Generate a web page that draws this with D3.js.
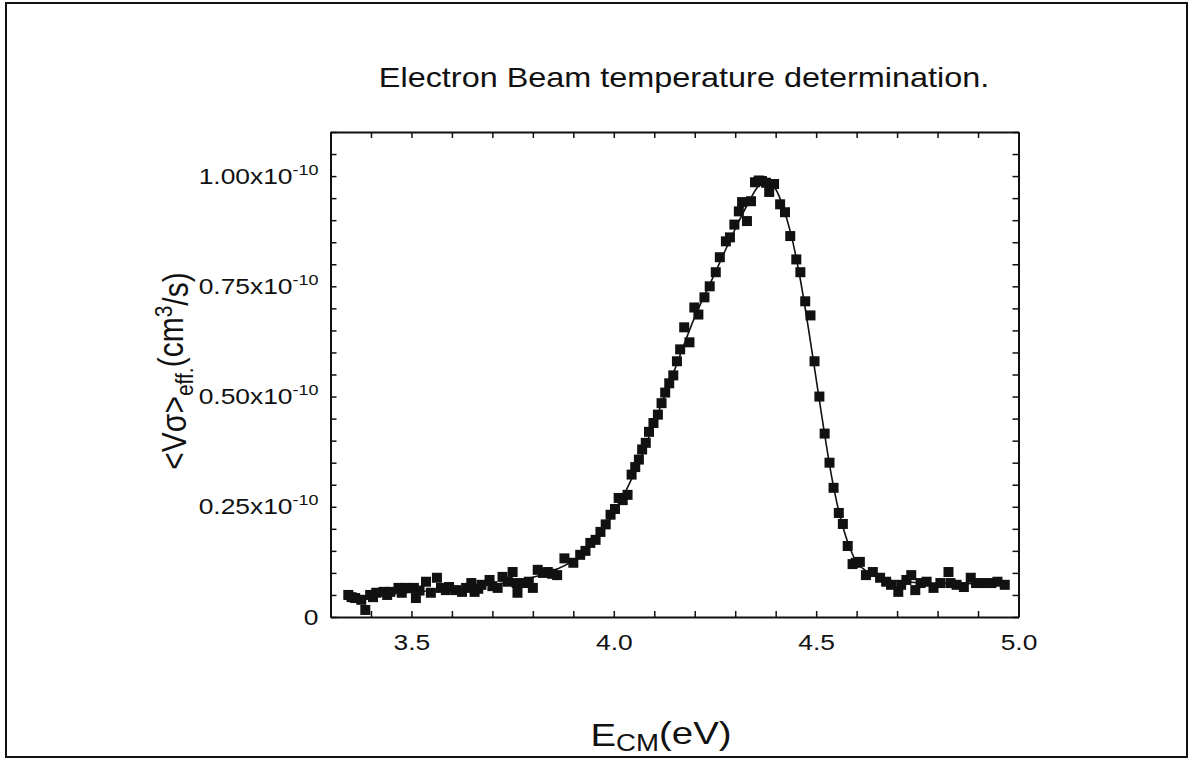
<!DOCTYPE html>
<html><head><meta charset="utf-8">
<script src="https://cdn.jsdelivr.net/npm/d3@7"></script>
<style>
html,body{margin:0;padding:0;background:#fff;}
svg{display:block;}
text{font-family:"Liberation Sans",Arial,Helvetica,sans-serif;fill:#111;}
</style></head>
<body>
<svg id="chart" width="1195" height="759"></svg>
<script>
// ---- data (E in eV, rate in units of 1e-10 cm^3/s) ----
const ecm = [3.344,3.352,3.361,3.376,3.386,3.398,3.405,3.413,3.431,3.440,3.448,3.468,3.476,3.486,3.506,3.511,3.520,3.536,3.548,3.563,3.573,3.585,3.593,3.610,3.625,3.635,3.648,3.656,3.665,3.673,3.693,3.700,3.713,3.725,3.738,3.750,3.760,3.762,3.780,3.790,3.800,3.812,3.825,3.837,3.848,3.860,3.878,3.900,3.917,3.930,3.942,3.955,3.967,3.980,3.992,4.003,4.012,4.022,4.034,4.044,4.053,4.062,4.070,4.079,4.087,4.098,4.109,4.118,4.127,4.137,4.147,4.156,4.164,4.174,4.187,4.199,4.209,4.224,4.237,4.252,4.262,4.277,4.287,4.298,4.309,4.317,4.329,4.339,4.349,4.358,4.366,4.376,4.384,4.396,4.411,4.423,4.436,4.451,4.461,4.473,4.486,4.496,4.508,4.521,4.533,4.543,4.556,4.566,4.578,4.590,4.598,4.608,4.623,4.640,4.658,4.673,4.685,4.703,4.710,4.723,4.735,4.745,4.758,4.773,4.790,4.807,4.827,4.832,4.847,4.865,4.882,4.895,4.910,4.933,4.948,4.966];
const rate = [0.050,0.045,0.043,0.039,0.016,0.050,0.045,0.055,0.057,0.050,0.057,0.066,0.055,0.066,0.066,0.043,0.060,0.080,0.055,0.089,0.066,0.061,0.068,0.061,0.057,0.066,0.077,0.057,0.064,0.073,0.084,0.070,0.066,0.091,0.080,0.102,0.077,0.055,0.077,0.080,0.066,0.107,0.100,0.102,0.098,0.095,0.133,0.123,0.141,0.150,0.168,0.175,0.193,0.210,0.232,0.245,0.270,0.265,0.277,0.323,0.340,0.357,0.380,0.395,0.420,0.440,0.459,0.485,0.509,0.530,0.548,0.580,0.607,0.657,0.623,0.702,0.686,0.725,0.750,0.782,0.816,0.852,0.861,0.890,0.920,0.941,0.898,0.943,0.986,0.990,0.989,0.985,0.964,0.982,0.936,0.918,0.864,0.811,0.782,0.716,0.684,0.580,0.500,0.416,0.350,0.293,0.236,0.211,0.161,0.120,0.123,0.125,0.095,0.102,0.089,0.080,0.073,0.057,0.073,0.084,0.095,0.061,0.077,0.080,0.066,0.077,0.102,0.077,0.073,0.068,0.089,0.077,0.077,0.077,0.080,0.073];
// fitted curve
const fitE = [3.35,3.45,3.55,3.65,3.75,3.80,3.85,3.90,3.95,4.00,4.05,4.10,4.15,4.20,4.25,4.30,4.33,4.36,4.38,4.40,4.42,4.44,4.46,4.48,4.50,4.52,4.54,4.56,4.58,4.60,4.63,4.67,4.75,4.85,4.95];
const fitV = [0.045,0.052,0.060,0.068,0.080,0.090,0.105,0.128,0.170,0.235,0.325,0.440,0.560,0.680,0.780,0.880,0.935,0.980,0.988,0.970,0.925,0.860,0.770,0.660,0.540,0.420,0.310,0.225,0.165,0.125,0.100,0.085,0.078,0.076,0.075];
const xLabeled = [3.5,4.0,4.5,5.0];
const yLabeled = [0,0.25,0.5,0.75,1.0];
const xTicks = [3.3,3.4,3.5,3.6,3.7,3.8,3.9,4.0,4.1,4.2,4.3,4.4,4.5,4.6,4.7,4.8,4.9,5.0];
const yTicks = [0,0.05,0.1,0.15,0.2,0.25,0.3,0.35,0.4,0.45,0.5,0.55,0.6,0.65,0.7,0.75,0.8,0.85,0.9,0.95,1.0,1.05,1.1];
const titleText = "Electron Beam temperature determination.";

const SX = 1.2; // horizontal stretch of glyphs in the scanned figure
const svg = d3.select("#chart");
const L = 330.5, R = 1018.5, T = 132, B = 617;
const x = d3.scaleLinear().domain([3.3,5.0]).range([L,R]);
const y = d3.scaleLinear().domain([0,1.1]).range([B,T]);

// outer frame
svg.append("rect").attr("x",6).attr("y",3).attr("width",1181).attr("height",754)
  .attr("fill","none").attr("stroke","#111").attr("stroke-width",2);

// title
svg.append("text").attr("transform",`translate(684,87) scale(${SX},1)`)
  .attr("text-anchor","middle").style("font-size","27px").text(titleText);

// axes
function styleAxis(g){
  g.select(".domain").attr("stroke","#111").attr("stroke-width",2);
  g.selectAll(".tick line").attr("stroke","#111").attr("stroke-width",1.5);
}
const gx = svg.append("g").attr("transform",`translate(0,${B})`)
  .call(d3.axisBottom(x).tickValues(xTicks).tickSizeInner(-6).tickSizeOuter(0).tickPadding(17)
    .tickFormat(d => xLabeled.some(v=>Math.abs(v-d)<1e-9) ? d3.format(".1f")(d) : ""));
styleAxis(gx);
gx.selectAll(".tick text").style("font-size","22px").attr("fill","#111")
  .attr("transform",`scale(${SX},1)`);

svg.append("g").attr("transform",`translate(0,${T})`)
  .call(d3.axisTop(x).tickValues(xTicks).tickSizeInner(-6).tickSizeOuter(0).tickFormat(""))
  .call(styleAxis);
svg.append("g").attr("transform",`translate(${R},0)`)
  .call(d3.axisRight(y).tickValues(yTicks).tickSizeInner(-6).tickSizeOuter(0).tickFormat(""))
  .call(styleAxis);

const gy = svg.append("g").attr("transform",`translate(${L},0)`)
  .call(d3.axisLeft(y).tickValues(yTicks).tickSizeInner(-6).tickSizeOuter(0).tickPadding(10)
    .tickFormat(d => yLabeled.some(v=>Math.abs(v-d)<1e-9) ? (d===0 ? "0" : d3.format(".2f")(d)) : ""));
styleAxis(gy);
gy.selectAll(".tick text").each(function(d){
  const t = d3.select(this);
  const s = t.text();
  t.text("").style("font-size","22px").attr("fill","#111").attr("transform",`scale(${SX},1)`);
  if(!s) return;
  if(s==="0"){ t.append("tspan").text("0"); return; }
  t.append("tspan").text(s+"x10");
  t.append("tspan").attr("dy","-0.6em").style("font-size","15px").text("-10");
});

// fit line
svg.append("path").datum(fitE.map((e,i)=>[e,fitV[i]]))
  .attr("fill","none").attr("stroke","#111").attr("stroke-width",1.6)
  .attr("d", d3.line().x(d=>x(d[0])).y(d=>y(d[1])).curve(d3.curveCatmullRom));

// data squares
const S = 10;
svg.append("g").selectAll("rect").data(ecm.map((e,i)=>[e,rate[i]])).join("rect")
  .attr("x",d=>x(d[0])-S/2).attr("y",d=>y(d[1])-S/2).attr("width",S).attr("height",S)
  .attr("fill","#111");

// x axis label
const xl = svg.append("text").attr("transform",`translate(661,746) scale(${SX},1)`)
  .attr("text-anchor","middle").style("font-size","32px");
xl.append("tspan").text("E");
xl.append("tspan").attr("dy","0.22em").style("font-size","23px").text("CM");
xl.append("tspan").attr("dy","-0.22em").text("(eV)");

// y axis label
const yl = svg.append("text").attr("transform",`translate(186,371) rotate(-90) scale(1,1.15)`)
  .attr("text-anchor","middle").style("font-size","30px");
yl.append("tspan").text("<Vσ>");
yl.append("tspan").attr("dy","0.3em").style("font-size","21px").text("eff.");
yl.append("tspan").attr("dy","-0.3em").text("(cm");
yl.append("tspan").attr("dy","-0.45em").style("font-size","21px").text("3");
yl.append("tspan").attr("dy","0.45em").text("/s)");
</script>
</body></html>
